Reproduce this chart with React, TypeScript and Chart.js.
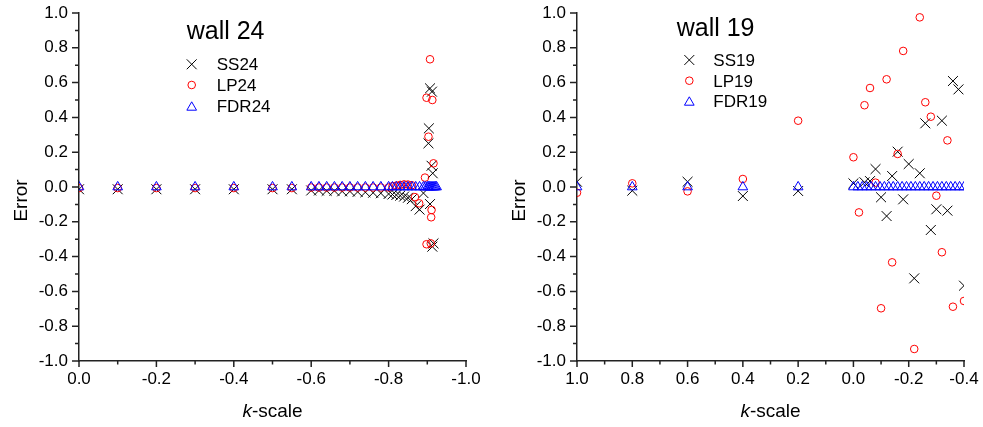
import React, { useEffect, useRef } from 'react';
import { Chart, registerables } from 'chart.js';

Chart.register(...registerables);

const FONT = "'Liberation Sans', Arial, Helvetica, sans-serif";
const AXIS = '#222222';

// ---------- wall 24 ----------
const kSS24 = [0, -0.1, -0.2, -0.3, -0.4, -0.5, -0.55, -0.6, -0.62, -0.64, -0.66, -0.68, -0.7, -0.72, -0.74, -0.76, -0.78, -0.8, -0.81, -0.82, -0.83, -0.84, -0.85, -0.86, -0.87, -0.88, -0.89, -0.903, -0.904, -0.907, -0.907, -0.911, -0.912, -0.914, -0.913, -0.916];
const eSS24 = [-0.013, -0.013, -0.013, -0.013, -0.013, -0.013, -0.013, -0.02, -0.02, -0.022, -0.022, -0.025, -0.025, -0.028, -0.03, -0.033, -0.036, -0.04, -0.043, -0.046, -0.05, -0.055, -0.062, -0.07, -0.11, -0.13, -0.035, 0.251, 0.337, -0.098, 0.567, 0.122, 0.548, 0.079, -0.343, -0.324];

const kLP24 = [0, -0.1, -0.2, -0.3, -0.4, -0.5, -0.55, -0.6, -0.62, -0.64, -0.66, -0.68, -0.7, -0.72, -0.74, -0.76, -0.78, -0.8, -0.81, -0.82, -0.83, -0.84, -0.85, -0.86, -0.868, -0.879, -0.894, -0.898, -0.898, -0.903, -0.907, -0.909, -0.91, -0.911, -0.913, -0.916];
const eLP24 = [-0.006, -0.006, -0.006, -0.006, -0.006, -0.006, -0.006, -0.003, -0.003, -0.003, -0.003, -0.003, -0.003, -0.003, -0.003, -0.003, -0.003, -0.003, 0.004, 0.008, 0.012, 0.015, 0.014, 0.01, -0.058, -0.094, 0.054, 0.513, -0.329, 0.289, 0.734, -0.324, -0.174, -0.132, 0.5, 0.136];

const kFDR24 = [0, -0.1, -0.2, -0.3, -0.4, -0.5, -0.55, -0.6, -0.62, -0.64, -0.66, -0.68, -0.7, -0.72, -0.74, -0.76, -0.78, -0.8, -0.81, -0.82, -0.83, -0.84, -0.85, -0.86, -0.87, -0.88, -0.89, -0.895, -0.9, -0.903, -0.906, -0.909, -0.912, -0.915, -0.918, -0.921, -0.924];
const eFDR24 = [0, 0, 0, 0, 0, 0, 0, 0, 0, 0, 0, 0, 0, 0, 0, 0, 0, 0, 0, 0, 0, 0, 0, 0, 0, 0, 0, 0, 0, 0, 0, 0, 0, 0, 0, 0, 0];

const xTicks24 = [0, -0.2, -0.4, -0.6, -0.8, -1.0];
const xMinor24 = [-0.1, -0.3, -0.5, -0.7, -0.9];

// ---------- wall 19 ----------
const kSS19 = [1, 0.8, 0.6, 0.4, 0.2, 0, -0.04, -0.06, -0.08, -0.1, -0.12, -0.14, -0.16, -0.18, -0.2, -0.22, -0.24, -0.26, -0.28, -0.3, -0.32, -0.34, -0.36, -0.38, -0.4];
const eSS19 = [0.03, -0.021, 0.03, -0.052, -0.023, 0.021, 0.027, 0.034, 0.103, -0.059, -0.167, 0.063, 0.203, -0.071, 0.132, -0.525, 0.079, 0.366, -0.247, -0.128, 0.381, -0.136, 0.609, 0.561, -0.567];

const kLP19 = [1, 0.8, 0.6, 0.4, 0.2, 0, -0.02, -0.04, -0.06, -0.08, -0.1, -0.12, -0.14, -0.16, -0.18, -0.22, -0.24, -0.26, -0.28, -0.3, -0.32, -0.34, -0.36, -0.4];
const eLP19 = [-0.033, 0.021, -0.025, 0.046, 0.381, 0.171, -0.146, 0.47, 0.569, 0.025, -0.697, 0.619, -0.433, 0.19, 0.782, -0.931, 0.975, 0.487, 0.404, -0.05, -0.375, 0.268, -0.688, -0.655];

const kFDR19 = [1, 0.8, 0.6, 0.4, 0.2, 0, -0.016, -0.032, -0.048, -0.064, -0.08, -0.096, -0.112, -0.128, -0.144, -0.16, -0.176, -0.192, -0.208, -0.224, -0.24, -0.256, -0.272, -0.288, -0.304, -0.32, -0.336, -0.352, -0.368, -0.384, -0.4];
const eFDR19 = [0, 0, 0, 0, 0, 0, 0, 0, 0, 0, 0, 0, 0, 0, 0, 0, 0, 0, 0, 0, 0, 0, 0, 0, 0, 0, 0, 0, 0, 0, 0];

const xTicks19 = [1.0, 0.8, 0.6, 0.4, 0.2, 0, -0.2, -0.4];
const xMinor19 = [0.9, 0.7, 0.5, 0.3, 0.1, -0.1, -0.3];

// shared y axis
const yTicks = [-1.0, -0.8, -0.6, -0.4, -0.2, 0, 0.2, 0.4, 0.6, 0.8, 1.0];
const yMinor = [-0.9, -0.7, -0.5, -0.3, -0.1, 0.1, 0.3, 0.5, 0.7, 0.9];

const SS_COLOR = '#000000';
const LP_COLOR = '#ff0000';
const FDR_COLOR = '#0000ff';
const R_CROSS = 7;
const R_CIRCLE = 3.8;
const R_TRI = 5.6;

function zip(xs: number[], ys: number[]) {
  return xs.map((x, i) => ({ x, y: ys[i] }));
}

function drawSymbol(ctx: CanvasRenderingContext2D, kind: string, x: number, y: number, color: string) {
  ctx.save();
  ctx.strokeStyle = color;
  ctx.lineWidth = 1;
  ctx.beginPath();
  if (kind === 'cross') {
    const d = R_CROSS * Math.SQRT1_2;
    ctx.moveTo(x - d, y - d); ctx.lineTo(x + d, y + d);
    ctx.moveTo(x - d, y + d); ctx.lineTo(x + d, y - d);
  } else if (kind === 'circle') {
    ctx.arc(x, y, R_CIRCLE, 0, Math.PI * 2);
  } else {
    const r = R_TRI;
    const cy = y + r * 0.25;
    ctx.moveTo(x, cy - r);
    ctx.lineTo(x + r * Math.sin((2 * Math.PI) / 3), cy + r / 2);
    ctx.lineTo(x - r * Math.sin((2 * Math.PI) / 3), cy + r / 2);
    ctx.closePath();
  }
  ctx.stroke();
  ctx.restore();
}

interface PanelCfg {
  id: string;
  title: string;
  names: string[];
  kSS: number[]; eSS: number[];
  kLP: number[]; eLP: number[];
  kFDR: number[]; eFDR: number[];
  xMin: number; xMax: number;
  xTicks: number[]; xMinor: number[];
  yAxisW: number; padRight: number;
  titleX: number; titleY: number;
  legSymX: number; legTextX: number; legRows: number[];
}

function makeChart(canvas: HTMLCanvasElement, p: PanelCfg) {
  const base = { showLine: false, clip: 0, pointBorderWidth: 1, pointHoverBorderWidth: 1, pointBackgroundColor: 'rgba(0,0,0,0)', backgroundColor: 'rgba(0,0,0,0)' };
  const datasets: any[] = [
    { ...base, label: p.names[0], data: zip(p.kSS, p.eSS), pointStyle: 'crossRot', pointRadius: R_CROSS, pointHoverRadius: R_CROSS, borderColor: SS_COLOR, pointBorderColor: SS_COLOR, order: 3 },
    { ...base, label: p.names[1], data: zip(p.kLP, p.eLP), pointStyle: 'circle', pointRadius: R_CIRCLE, pointHoverRadius: R_CIRCLE, borderColor: LP_COLOR, pointBorderColor: LP_COLOR, order: 2 },
    { ...base, label: p.names[2], data: zip(p.kFDR, p.eFDR), pointStyle: 'triangle', pointRadius: R_TRI, pointHoverRadius: R_TRI, borderColor: FDR_COLOR, pointBorderColor: FDR_COLOR, order: 1 },
  ];

  const decor = {
    id: 'decor_' + p.id,
    afterDraw(chart: any) {
      const { ctx, chartArea, scales } = chart;
      const xs = scales.x;
      const ys = scales.y;
      ctx.save();
      ctx.strokeStyle = AXIS;
      ctx.lineWidth = 1.5;
      ctx.beginPath();
      const L = chartArea.left;
      const B = chartArea.bottom;
      yTicks.forEach((v) => { const py = ys.getPixelForValue(v); ctx.moveTo(L - 7, py); ctx.lineTo(L, py); });
      yMinor.forEach((v) => { const py = ys.getPixelForValue(v); ctx.moveTo(L - 4, py); ctx.lineTo(L, py); });
      p.xTicks.forEach((v) => { const px = xs.getPixelForValue(v); ctx.moveTo(px, B); ctx.lineTo(px, B + 6); });
      p.xMinor.forEach((v) => { const px = xs.getPixelForValue(v); ctx.moveTo(px, B); ctx.lineTo(px, B + 3.5); });
      ctx.stroke();

      // panel title
      ctx.fillStyle = '#000';
      ctx.textBaseline = 'alphabetic';
      ctx.textAlign = 'left';
      ctx.font = `25px ${FONT}`;
      ctx.fillText(p.title, p.titleX, p.titleY);

      // legend
      const kinds = ['cross', 'circle', 'tri'];
      const cols = [SS_COLOR, LP_COLOR, FDR_COLOR];
      ctx.font = `17px ${FONT}`;
      p.names.forEach((n, i) => {
        const cy = p.legRows[i];
        drawSymbol(ctx, kinds[i], p.legSymX, cy, cols[i]);
        ctx.fillStyle = '#000';
        ctx.fillText(n, p.legTextX, cy + 6);
      });

      // y axis title
      ctx.save();
      ctx.font = `19px ${FONT}`;
      ctx.translate(L - 52.3, 200.5);
      ctx.rotate(-Math.PI / 2);
      ctx.textAlign = 'center';
      ctx.fillText('Error', 0, 0);
      ctx.restore();

      // x axis title with italic k
      const cx = (chartArea.left + chartArea.right) / 2;
      ctx.font = `italic 19px ${FONT}`;
      const wk = ctx.measureText('k').width;
      ctx.font = `19px ${FONT}`;
      const wr = ctx.measureText('-scale').width;
      const x0 = cx - (wk + wr) / 2;
      ctx.textAlign = 'left';
      ctx.font = `italic 19px ${FONT}`;
      ctx.fillText('k', x0, 416.5);
      ctx.font = `19px ${FONT}`;
      ctx.fillText('-scale', x0 + wk, 416.5);
      ctx.restore();
    },
  };

  const tickFont = { family: FONT, size: 17 };
  return new Chart(canvas, {
    type: 'scatter',
    data: { datasets },
    plugins: [decor],
    options: {
      animation: false,
      responsive: false,
      devicePixelRatio: 1,
      events: [],
      layout: { padding: { top: 13, right: p.padRight, left: 0, bottom: 0 } },
      plugins: { legend: { display: false }, tooltip: { enabled: false }, title: { display: false } },
      scales: {
        x: {
          type: 'linear',
          min: p.xMin,
          max: p.xMax,
          reverse: true,
          grid: { display: false, drawTicks: false },
          border: { display: true, color: AXIS, width: 1.5 },
          ticks: { font: tickFont, color: '#000', padding: 8, maxRotation: 0, autoSkip: false, callback: (v: any) => Number(v).toFixed(1) },
          afterBuildTicks: (s: any) => { s.ticks = p.xTicks.map((v) => ({ value: v })); },
          afterFit: (s: any) => { s.height = 66; s.paddingLeft = 0; s.paddingRight = 0; },
        },
        y: {
          type: 'linear',
          min: -1,
          max: 1,
          grid: { display: false, drawTicks: false },
          border: { display: true, color: AXIS, width: 1.5 },
          ticks: { font: tickFont, color: '#000', padding: 11, autoSkip: false, callback: (v: any) => Number(v).toFixed(1) },
          afterBuildTicks: (s: any) => { s.ticks = yTicks.map((v) => ({ value: v })); },
          afterFit: (s: any) => { s.width = p.yAxisW; s.paddingTop = 0; s.paddingBottom = 0; },
        },
      },
    } as any,
  });
}

const panel24: PanelCfg = {
  id: 'w24', title: 'wall 24', names: ['SS24', 'LP24', 'FDR24'],
  kSS: kSS24, eSS: eSS24, kLP: kLP24, eLP: eLP24, kFDR: kFDR24, eFDR: eFDR24,
  xMin: -1, xMax: 0, xTicks: xTicks24, xMinor: xMinor24,
  yAxisW: 79, padRight: 26,
  titleX: 186.7, titleY: 39.3,
  legSymX: 191.7, legTextX: 216.7, legRows: [64.3, 85, 106],
};

const panel19: PanelCfg = {
  id: 'w19', title: 'wall 19', names: ['SS19', 'LP19', 'FDR19'],
  kSS: kSS19, eSS: eSS19, kLP: kLP19, eLP: eLP19, kFDR: kFDR19, eFDR: eFDR19,
  xMin: -0.4, xMax: 1, xTicks: xTicks19, xMinor: xMinor19,
  yAxisW: 85, padRight: 19,
  titleX: 184.7, titleY: 36,
  legSymX: 197.3, legTextX: 221.3, legRows: [60, 80.7, 101],
};

export default function App() {
  const leftRef = useRef<HTMLCanvasElement | null>(null);
  const rightRef = useRef<HTMLCanvasElement | null>(null);

  useEffect(() => {
    const charts: Chart[] = [];
    if (leftRef.current) charts.push(makeChart(leftRef.current, panel24));
    if (rightRef.current) charts.push(makeChart(rightRef.current, panel19));
    return () => { charts.forEach((c) => c.destroy()); };
  }, []);

  return (
    <div style={{ position: 'absolute', left: 0, top: 0, width: 983, height: 427, background: '#fff', overflow: 'hidden' }}>
      <canvas ref={leftRef} width={492} height={427} style={{ position: 'absolute', left: 0, top: 0, width: 492, height: 427 }} />
      <canvas ref={rightRef} width={491} height={427} style={{ position: 'absolute', left: 492, top: 0, width: 491, height: 427 }} />
    </div>
  );
}
